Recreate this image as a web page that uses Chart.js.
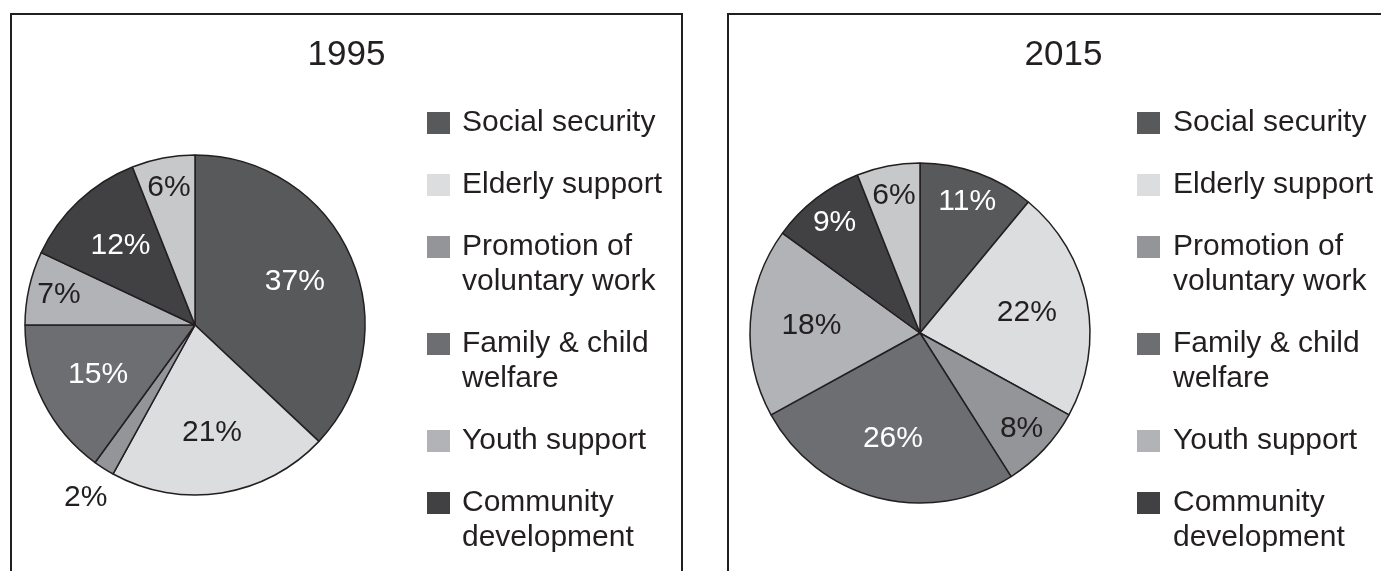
<!DOCTYPE html>
<html>
<head>
<meta charset="utf-8">
<script src="https://cdn.jsdelivr.net/npm/chart.js@4"></script>
<style>
    body { margin: 0; background: #ffffff; overflow: hidden; width: 1381px; height: 571px; position: relative; }
    .panel { position: absolute; top: 13px; width: 669px; height: 600px; border: 2px solid #231f20; border-bottom: none; }
    #panel1995 { left: 10px; }
    #panel2015 { left: 727px; }
    canvas { display: block; }
</style>
</head>
<body>
<div class="panel" id="panel1995"><canvas id="chart1995" width="669" height="600"></canvas></div>
<div class="panel" id="panel2015"><canvas id="chart2015" width="669" height="600"></canvas></div>

<script>
// Spending shares by area, in percent
const categories = ['Social security', 'Elderly support', 'Promotion of voluntary work',
    'Family & child welfare', 'Youth support', 'Community development', 'Other'];
const shares1995 = [37, 21, 2, 15, 7, 12, 6];
const shares2015 = [11, 22, 8, 26, 18, 9, 6];
const sliceColors = ['#58595b', '#dcdddf', '#939598', '#6d6e71', '#b1b3b6', '#414042', '#c7c8ca'];
const notInLegend = ['Other'];

const FONT = '"Liberation Sans", Arial, Helvetica, sans-serif';
const INK = '#231f20';

function isDark(hex) {
    const n = parseInt(hex.slice(1), 16);
    const lum = 0.299 * (n >> 16) + 0.587 * ((n >> 8) & 255) + 0.114 * (n & 255);
    return lum < 128;
}

// percent labels inside the slices (small ones pushed out)
const sliceLabels = {
    id: 'sliceLabels',
    afterDatasetsDraw(chart) {
        const ctx = chart.ctx;
        const ds = chart.data.datasets[0];
        ctx.save();
        ctx.font = '30px ' + FONT;
        ctx.textAlign = 'center';
        ctx.textBaseline = 'middle';
        chart.getDatasetMeta(0).data.forEach((arc, i) => {
            const p = arc.getProps(['x', 'y', 'startAngle', 'endAngle', 'outerRadius'], true);
            const mid = (p.startAngle + p.endAngle) / 2;
            const v = ds.data[i];
            const outside = v < 5;
            const k = outside ? 1.2 : (v < 12 ? 0.82 : 0.64);
            ctx.fillStyle = (!outside && isDark(ds.backgroundColor[i])) ? '#ffffff' : INK;
            ctx.fillText(v + '%', p.x + Math.cos(mid) * p.outerRadius * k, p.y + Math.sin(mid) * p.outerRadius * k);
        });
        ctx.restore();
    }
};

function wrapWords(ctx, text, maxWidth) {
    const words = text.split(' ');
    const lines = [];
    let line = '';
    words.forEach(w => {
        const test = line ? line + ' ' + w : w;
        if (line && ctx.measureText(test).width > maxWidth) {
            lines.push(line);
            line = w;
        } else {
            line = test;
        }
    });
    lines.push(line);
    return lines;
}

// year heading, centred on the whole panel rather than the pie
const panelTitle = {
    id: 'panelTitle',
    afterDraw(chart, args, opts) {
        const ctx = chart.ctx;
        ctx.save();
        ctx.font = '35px ' + FONT;
        ctx.fillStyle = INK;
        ctx.textAlign = 'center';
        ctx.textBaseline = 'middle';
        ctx.fillText(opts.text, chart.width / 2, 40);
        ctx.restore();
    }
};

// legend column on the right of each pie
const sideLegend = {
    id: 'sideLegend',
    afterDraw(chart, args, opts) {
        const ctx = chart.ctx;
        const colors = chart.data.datasets[0].backgroundColor;
        let y = opts.top;
        ctx.save();
        ctx.font = '30px ' + FONT;
        ctx.textBaseline = 'middle';
        ctx.textAlign = 'left';
        chart.data.labels.forEach((label, i) => {
            if (notInLegend.includes(label)) return;
            ctx.fillStyle = colors[i];
            ctx.fillRect(opts.boxX, y - 11, 23, 22);
            ctx.fillStyle = INK;
            const lines = wrapWords(ctx, label, 210);
            lines.forEach((ln, j) => ctx.fillText(ln, opts.textX, y + j * 35));
            y += (lines.length - 1) * 35 + 62;
        });
        ctx.restore();
    }
};

function drawPie(canvasId, year, values, pad, legendPos) {
    const ctx = document.getElementById(canvasId).getContext('2d');
    new Chart(ctx, {
        type: 'pie',
        data: {
            labels: categories,
            datasets: [{
                data: values,
                backgroundColor: sliceColors,
                borderColor: INK,
                borderWidth: 1.5
            }]
        },
        options: {
            responsive: false,
            animation: false,
            radius: 170,
            layout: { padding: pad },
            plugins: {
                legend: { display: false },
                tooltip: { enabled: false },
                title: { display: false },
                panelTitle: { text: year },
                sideLegend: legendPos
            }
        },
        plugins: [sliceLabels, panelTitle, sideLegend]
    });
}

drawPie('chart1995', '1995', shares1995,
    { left: 0, right: 303, top: 61, bottom: 41 },
    { boxX: 415, textX: 450, top: 108 });
drawPie('chart2015', '2015', shares2015,
    { left: 0, right: 287, top: 61, bottom: 25 },
    { boxX: 408, textX: 444, top: 108 });
</script>
</body>
</html>
